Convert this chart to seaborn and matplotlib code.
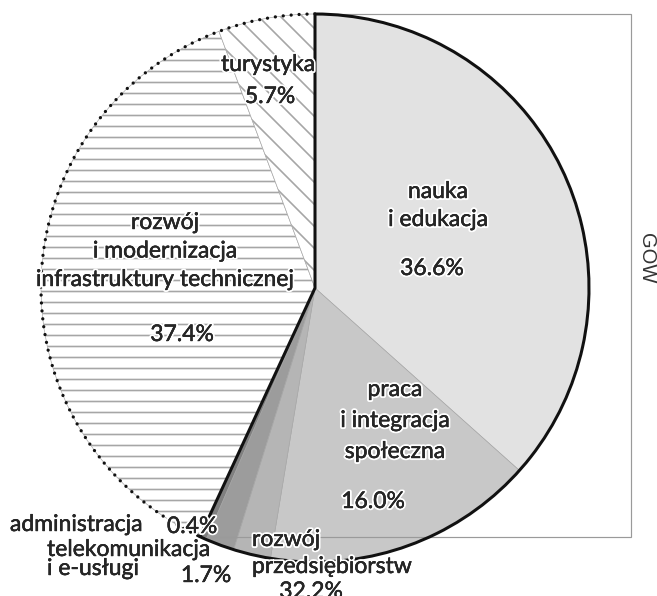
import matplotlib
matplotlib.use('Agg')
import matplotlib.pyplot as plt
import matplotlib.patches as mpatches
import matplotlib.patheffects as pe
import numpy as np
import seaborn as sns

# ── Data ────────────────────────────────────────────────────────────────
sectors = ['nauka\ni edukacja',
           'praca\ni integracja\nspołeczna',
           'rozwój\nprzedsiębiorstw',
           'telekomunikacja\ni e-usługi',
           'administracja',
           'rozwój\ni modernizacja\ninfrastruktury technicznej',
           'turystyka']
shares = [36.6, 16.0, 2.2, 1.7, 0.4, 37.4, 5.7]
share_labels = ['36.6%', '16.0%', '32.2%', '1.7%', '0.4%', '37.4%', '5.7%']
in_gow = [True, True, True, True, True, False, False]
group_label = 'GOW'

fills = ['#e2e2e2', '#c8c8c8', '#b5b5b5', '#9c9c9c', '#808080', 'white', 'white']
hatches = [None, None, None, None, None, '-', '\\']

# ── Layout (pixels of the 657x596 picture) ──────────────────────────────
DPI = 66
CX, CY, R = 315, 288, 274


def px(x, y):
    return (x - CX) / R, (CY - y) / R


# name: x, first baseline, line step, alignment ; share: x, baseline
name_pos = [(438, 198, 28, 'center'),
            (395, 396, 31, 'center'),
            (252, 546, 27, 'left'),
            (47, 556, 19, 'left'),
            (10, 531, 0, 'left'),
            (165, 229, 28.5, 'center'),
            (268, 71, 0, 'center')]
share_pos = [(432, 275), (373, 508), (311, 598), (206, 582),
             (192, 533), (182, 341), (270, 103)]

sns.set_theme(style='white')
plt.rcParams['font.family'] = ['Lato', 'DejaVu Sans']
plt.rcParams['hatch.linewidth'] = 1.8
plt.rcParams['hatch.color'] = '#a6a6a6'

fig = plt.figure(figsize=(657 / DPI, 596 / DPI), dpi=DPI)
ax = fig.add_axes([0, 0, 1, 1])

wedges, _ = ax.pie(shares, startangle=90, counterclock=False, colors=fills,
                   radius=1,
                   wedgeprops=dict(edgecolor='#a6a6a6', linewidth=0.7))
for w, h in zip(wedges, hatches):
    if h:
        w.set_hatch(h)

# group outlines: solid for GOW part, dotted for the rest
gow_share = sum(s for s, g in zip(shares, in_gow) if g)
split = 90 - 360 * gow_share / 100
ax.add_patch(mpatches.Wedge((0, 0), 1, split, 90, fill=False,
                            edgecolor='#111111', linewidth=3.3, zorder=5,
                            joinstyle='miter'))
dots = mpatches.Arc((0, 0), 2, 2, theta1=90, theta2=split + 360,
                    edgecolor='#111111', linewidth=3.6,
                    linestyle=(0, (0.01, 2.4)), zorder=5)
dots.set_capstyle('round')
ax.add_patch(dots)

# bracket around the GOW half
bx = np.cos(np.radians(split))
by = np.sin(np.radians(split))
right = px(631, 0)[0]
ax.plot([0, right, right, bx], [1, 1, by, by], color='#9a9a9a',
        linewidth=1.3, zorder=4, solid_joinstyle='miter')

ink = '#262626'
halo = [pe.withStroke(linewidth=4.5, foreground='white'),
        pe.withStroke(linewidth=0.45, foreground=ink)]
FS = 25
for name, share, (nx, ny, step, ha), spos in zip(sectors, share_labels,
                                                 name_pos, share_pos):
    for i, line in enumerate(name.split('\n')):
        ax.text(*px(nx, ny + i * step), line, ha=ha, va='baseline',
                fontsize=FS, color=ink, path_effects=halo, zorder=6)
    ax.text(*px(*spos), share, ha='center', va='baseline', fontsize=FS,
            color=ink, path_effects=halo, zorder=6)

ax.text(*px(647, 258), group_label, rotation=-90, ha='center', va='center',
        fontsize=22, color='#333333', family=['Liberation Sans', 'DejaVu Sans'])

ax.set_xlim(px(0, 0)[0], px(657, 0)[0])
ax.set_ylim(px(0, 596)[1], px(0, 0)[1])
ax.axis('off')

plt.savefig('out.png', dpi=DPI)
